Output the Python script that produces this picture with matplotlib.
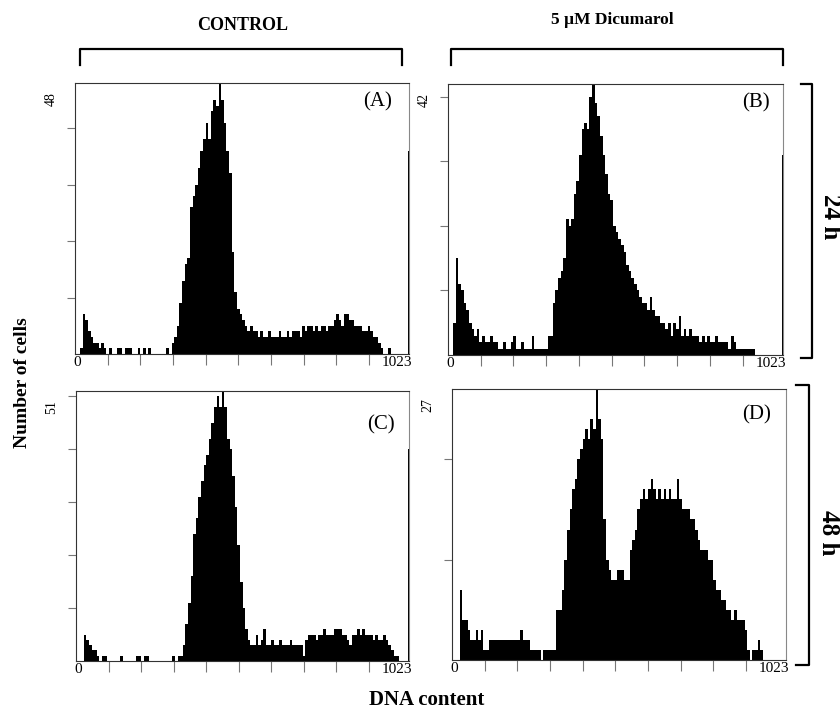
import matplotlib
matplotlib.use("Agg")
import matplotlib.pyplot as plt
import numpy as np
from matplotlib.lines import Line2D

plt.rcParams['font.family'] = ['Liberation Serif', 'DejaVu Serif']

# DNA content histograms, 128 bins of 8 channels (0..1023)
counts_a = ([0, 0, 1, 7, 6, 4, 3, 2, 2, 1, 2, 1]
            + [0, 1, 0, 0, 1, 1, 0, 1, 1, 1, 0, 0, 1, 0, 1, 0, 1, 0]
            + [0, 0, 0, 0, 0, 1, 0]
            + [2, 3, 5, 9, 13, 16, 17, 26, 28, 30, 33, 36, 38, 41,
               38, 43, 45, 44, 48, 45, 41, 36, 32, 18, 11, 8, 7, 6]
            + [5, 4, 5, 4, 4]
            + [3, 4, 3, 3, 4, 3, 3, 3, 4, 3, 3, 4, 3, 4]
            + [4, 4, 3, 5, 4, 5, 5, 4, 5, 4, 5, 5, 4, 5]
            + [5, 6, 7, 6, 5, 7, 7, 6, 6]
            + [5, 5, 5, 4, 4, 5]
            + [4, 3, 3, 2]
            + [1, 0, 0, 1, 0, 0, 0, 0, 0, 0, 0])

counts_b = ([0, 0, 5, 15, 11, 10, 8, 7, 5, 4, 3, 4]
            + [2, 3, 2, 2, 3, 2, 2, 1, 1, 2, 1, 1, 2, 3, 1, 1, 2, 1, 1, 1,
               3, 1, 1, 1, 1, 1, 3, 3]
            + [8, 10, 12, 13, 15, 21, 20, 21, 25, 27, 31, 35, 36, 35, 40,
               42, 39, 37, 34, 31, 28, 25, 24, 20, 19, 18, 17, 16, 14, 13,
               12, 11, 10, 9, 8, 8, 7]
            + [9, 7, 6, 6, 5, 5, 4, 5, 3, 5, 4, 6, 3, 4, 3, 4, 3, 3, 3, 2,
               3, 2, 3, 2, 2, 3, 2, 2, 2, 2, 1, 3, 2, 1, 1, 1, 1, 1, 1, 1]
            + [0] * 11)

counts_c = ([0, 0, 0, 5, 4, 3, 2, 2, 1, 0, 1, 1]
            + [0, 0, 0, 0, 0, 1, 0, 0, 0, 0, 0, 1, 1, 0, 1, 1, 0, 0, 0, 0,
               0, 0, 0, 0, 0, 1, 0, 1, 1]
            + [3, 7, 11, 16, 24, 27, 31, 34, 37, 39, 42, 45, 48, 50, 48,
               51, 48, 42, 40, 35, 29, 22, 15, 10, 6, 4, 3, 3]
            + [5, 3, 4, 6, 3, 3, 4, 3, 3, 4, 3, 3, 3, 4, 3, 3, 3, 3, 1]
            + [4, 5, 5, 5, 4, 5, 5, 6, 5, 5, 5, 6, 6, 6, 5, 5, 4, 3, 5, 5,
               6, 5, 6, 5, 5, 5, 4, 5, 4, 4, 5, 4, 3, 2, 1, 1]
            + [0, 0, 0, 0])

counts_d = ([0, 0, 0, 7, 4, 4, 3, 2, 2, 3, 2, 3]
            + [1, 1, 2, 2, 2, 2, 2, 2, 2, 2, 2, 2, 2, 2,
               3, 2, 2, 2, 1, 1, 1, 1, 0, 1, 1, 1, 1, 1]
            + [5, 5, 7, 10, 13, 15, 17, 18, 20, 21, 22, 23, 22, 24, 23,
               27, 24, 22, 14]
            + [10, 9, 8, 8, 9, 9, 9, 8, 8, 11, 12, 13, 15, 16, 17, 16, 17,
               18, 17, 16, 17, 16, 17, 16, 17, 16, 16, 18, 16, 15, 15, 15,
               14, 14, 13, 12, 11, 11, 11, 10, 10]
            + [8, 7, 7, 6, 6, 5, 5, 4, 5, 4, 4, 4, 3, 1, 0, 1, 1, 2, 1]
            + [0] * 9)

# events piled up in the last channel (1023)
overflow = [36, 31, 40, 0]
y_max = [48, 42, 51, 27]
panel_names = ['(A)', '(B)', '(C)', '(D)']
columns = ['CONTROL', '5 µM Dicumarol']
rows = ['24 h', '48 h']

W, H = 840, 711


def px(x, y):
    return x / W, 1 - y / H


fig = plt.figure(figsize=(W / 100, H / 100), dpi=100)

# axes boxes in pixels: left, top, right, bottom
boxes = [(75, 83, 409, 354), (448, 84, 783, 355),
         (76, 391, 409, 661), (452, 389, 786, 660)]
label_pos = [(0.905, 0.93), (0.92, 0.93), (0.916, 0.874), (0.913, 0.904)]
all_counts = [counts_a, counts_b, counts_c, counts_d]
edges = np.arange(0, 1025, 8)

for i in range(4):
    l, t, r, b = boxes[i]
    ax = fig.add_axes([l / W, 1 - b / H, (r - l) / W, (b - t) / H])
    ax.stairs(all_counts[i], edges, fill=True, color='black', linewidth=0)
    if overflow[i] > 0:
        ax.bar(1020, overflow[i], width=4, align='edge', color='black',
               linewidth=0)
    ax.set_xlim(0, 1023)
    ax.set_ylim(0, y_max[i])
    ax.set_xticks(np.arange(100, 1000, 100))
    ax.set_yticks(np.arange(10, y_max[i], 10))
    ax.tick_params(axis='x', direction='out', length=8, width=0.8,
                   color='#777777', labelbottom=False)
    ax.tick_params(axis='y', direction='out', length=5.5, width=0.8,
                   color='#777777', labelleft=False)
    for s in ax.spines.values():
        s.set_linewidth(0.8)
        s.set_color('#333333')
    ax.spines['right'].set_color('#888888')
    tr = ax.get_xaxis_transform()
    ax.text(6, -0.006, '0', transform=tr, ha='center', va='top', fontsize=11)
    ax.text(1032, -0.006, '1023', transform=tr, ha='right', va='top',
            fontsize=11)
    ax.text(-0.072, 0.94, str(y_max[i]), transform=ax.transAxes,
            rotation=90, ha='center', va='center', fontsize=10)
    ax.text(label_pos[i][0], label_pos[i][1], panel_names[i],
            transform=ax.transAxes, ha='center', va='center', fontsize=15)

# column brackets
for x0, x1 in [(80, 402), (451, 783)]:
    xs = [x0, x0, x1, x1]
    ys = [65, 49, 49, 65]
    pts = [px(x, y) for x, y in zip(xs, ys)]
    fig.add_artist(Line2D([p[0] for p in pts], [p[1] for p in pts],
                          color='black', linewidth=1.6,
                          transform=fig.transFigure))
fig.text(*px(243, 25), columns[0], ha='center', va='center',
         fontsize=13, fontweight='bold')
fig.text(*px(612, 20), columns[1], ha='center', va='center',
         fontsize=12.5, fontweight='bold')

# row brackets
for xv, xt, y0, y1 in [(812, 801, 84, 358), (809, 796, 385, 665)]:
    xs = [xt, xv, xv, xt]
    ys = [y0, y0, y1, y1]
    pts = [px(x, y) for x, y in zip(xs, ys)]
    fig.add_artist(Line2D([p[0] for p in pts], [p[1] for p in pts],
                          color='black', linewidth=1.6,
                          transform=fig.transFigure))
fig.text(*px(830, 217), rows[0], rotation=270, ha='center', va='center',
         fontsize=18, fontweight='bold')
fig.text(*px(828, 533), rows[1], rotation=270, ha='center', va='center',
         fontsize=18, fontweight='bold')

fig.text(*px(23, 383), 'Number of cells', rotation=90, ha='center',
         va='center', fontsize=14, fontweight='bold')
fig.text(*px(427, 700), 'DNA content', ha='center', va='center',
         fontsize=15, fontweight='bold')

fig.savefig('out.png', dpi=100)
